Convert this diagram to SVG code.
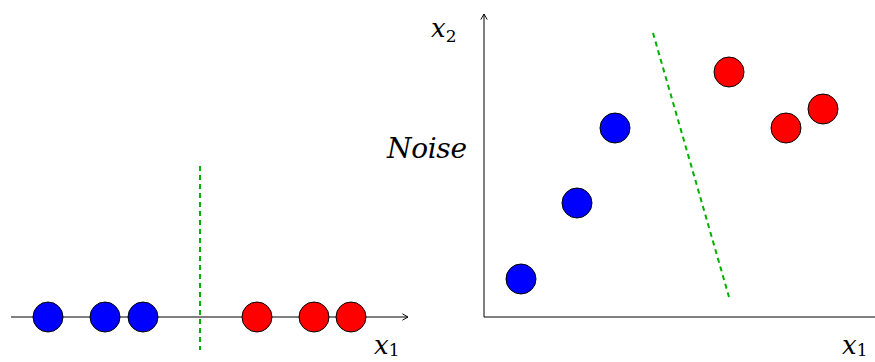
<svg xmlns="http://www.w3.org/2000/svg" width="875" height="362" viewBox="0 0 875 362">
<defs>
<marker id="arr" viewBox="0 0 10 10" refX="9" refY="5" markerWidth="8" markerHeight="8" markerUnits="userSpaceOnUse" orient="auto">
<path d="M2,1 L9,5 L2,9" fill="none" stroke="#000" stroke-width="1.2"/>
</marker>
<style>
.axis{stroke:#000;stroke-width:1;fill:none}
.sep{stroke:#00b000;stroke-width:2;stroke-dasharray:5,4;fill:none}
.blue{fill:#0000ff;stroke:#000;stroke-width:1}
.red{fill:#ff0000;stroke:#000;stroke-width:1}
.lbl{font-family:"DejaVu Serif",serif;font-style:italic;font-size:26px;fill:#000}
.sub{font-size:17px;font-style:normal}
.big{font-size:28px}
</style>
</defs>
<rect width="875" height="362" fill="#fff"/>
<g id="connectors">
<line class="axis" x1="11" y1="317" x2="408" y2="317" marker-end="url(#arr)"/>
<line class="axis" x1="484" y1="317" x2="484" y2="14" marker-end="url(#arr)"/>
<line class="axis" x1="484" y1="317" x2="875" y2="317"/>
<line class="sep" x1="200" y1="166" x2="200" y2="350"/>
<line class="sep" x1="653" y1="33" x2="729" y2="297"/>
</g>
<g id="left-points">
<circle class="blue" cx="48" cy="317" r="15"/>
<circle class="blue" cx="105" cy="317" r="15"/>
<circle class="blue" cx="143" cy="317" r="15"/>
<circle class="red" cx="257" cy="317" r="15"/>
<circle class="red" cx="314" cy="317" r="15"/>
<circle class="red" cx="351" cy="317" r="15"/>
</g>
<g id="right-points">
<circle class="blue" cx="521" cy="279" r="15"/>
<circle class="blue" cx="577" cy="203" r="15"/>
<circle class="blue" cx="615" cy="128" r="15"/>
<circle class="red" cx="729" cy="72" r="15"/>
<circle class="red" cx="786" cy="128" r="15"/>
<circle class="red" cx="823" cy="109" r="15"/>
</g>
<g id="labels">
<text class="lbl" x="374" y="354">x<tspan class="sub" dy="2">1</tspan></text>
<text class="lbl" x="842" y="354">x<tspan class="sub" dy="2">1</tspan></text>
<text class="lbl" x="431" y="37">x<tspan class="sub" dy="5">2</tspan></text>
<text class="lbl big" x="387" y="158" textLength="80" lengthAdjust="spacing">Noise</text>
</g>
</svg>
